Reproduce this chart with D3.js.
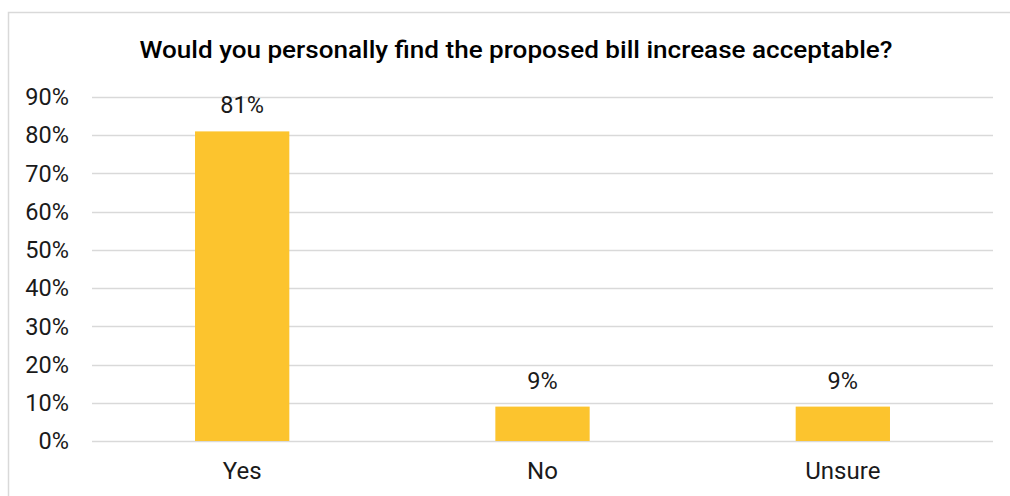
<!DOCTYPE html>
<html>
<head>
<meta charset="utf-8">
<script src="https://cdn.jsdelivr.net/npm/d3@7"></script>
<style>
  html, body { margin: 0; padding: 0; background: #fff; }
  svg { display: block; font-family: Roboto, "Noto Sans", sans-serif; }
</style>
</head>
<body>
<svg id="chart" width="1010" height="496"></svg>
<script>
// Survey responses (share of respondents)
const categories = ["Yes", "No", "Unsure"];
const shares = [0.81, 0.09, 0.09];
const tickValues = [0, 0.1, 0.2, 0.3, 0.4, 0.5, 0.6, 0.7, 0.8, 0.9];
const titleText = "Would you personally find the proposed bill increase acceptable?";

const svg = d3.select("#chart");
const W = 1010, H = 496;
const margin = { left: 92, right: 17, top: 97, bottom: 55 };
const fmt = d3.format(".0%");

// Chart frame (extends past the right and bottom edges)
svg.append("rect")
  .attr("x", 8.5).attr("y", 12.5)
  .attr("width", W + 20).attr("height", H + 20)
  .attr("fill", "#fff")
  .attr("stroke", "#d9d9d9").attr("stroke-width", 1.5);

const x = d3.scaleBand()
  .domain(categories)
  .range([margin.left, W - margin.right])
  .paddingInner(0.686).paddingOuter(0.343);

const y = d3.scaleLinear()
  .domain([0, 0.9])
  .range([H - margin.bottom, margin.top]);

// Gridlines
svg.append("g")
  .selectAll("line")
  .data(tickValues)
  .join("line")
  .attr("x1", margin.left).attr("x2", W - margin.right)
  .attr("y1", d => Math.round(y(d)) + 0.5)
  .attr("y2", d => Math.round(y(d)) + 0.5)
  .attr("stroke", "#d9d9d9").attr("stroke-width", 1.5);

// Y axis labels
const yAxis = d3.axisLeft(y)
  .tickValues(tickValues)
  .tickFormat(fmt)
  .tickSize(0).tickPadding(0);
svg.append("g")
  .attr("transform", `translate(${69},0)`)
  .call(yAxis)
  .call(g => g.select(".domain").remove())
  .selectAll("text")
  .attr("dy", "0.33em")
  .attr("font-family", "Roboto, sans-serif")
  .attr("font-size", 23.5)
  .attr("fill", "#1a1a1a");

// Bars
svg.append("g")
  .selectAll("rect")
  .data(categories)
  .join("rect")
  .attr("x", d => x(d))
  .attr("width", x.bandwidth())
  .attr("y", (d, i) => y(shares[i]))
  .attr("height", (d, i) => y(0) - y(shares[i]))
  .attr("fill", "#FCC42E");

// Value labels
svg.append("g")
  .selectAll("text")
  .data(categories)
  .join("text")
  .attr("x", d => x(d) + x.bandwidth() / 2)
  .attr("y", (d, i) => y(shares[i]) - 18)
  .attr("text-anchor", "middle")
  .attr("font-size", 23.5)
  .attr("fill", "#1a1a1a")
  .text((d, i) => fmt(shares[i]));

// Category axis labels
const xAxis = d3.axisBottom(x).tickSize(0).tickPadding(0);
svg.append("g")
  .attr("transform", `translate(0,${H - margin.bottom})`)
  .call(xAxis)
  .call(g => g.select(".domain").remove())
  .selectAll("text")
  .attr("dy", null)
  .attr("y", 38)
  .attr("font-family", "Roboto, sans-serif")
  .attr("font-size", 24)
  .attr("fill", "#1a1a1a");

// Title
svg.append("text")
  .attr("x", 516).attr("y", 58)
  .attr("text-anchor", "middle")
  .attr("font-size", 24)
  .attr("font-weight", 500)
  .attr("textLength", 753)
  .attr("lengthAdjust", "spacingAndGlyphs")
  .attr("fill", "#000")
  .text(titleText);
</script>
</body>
</html>
